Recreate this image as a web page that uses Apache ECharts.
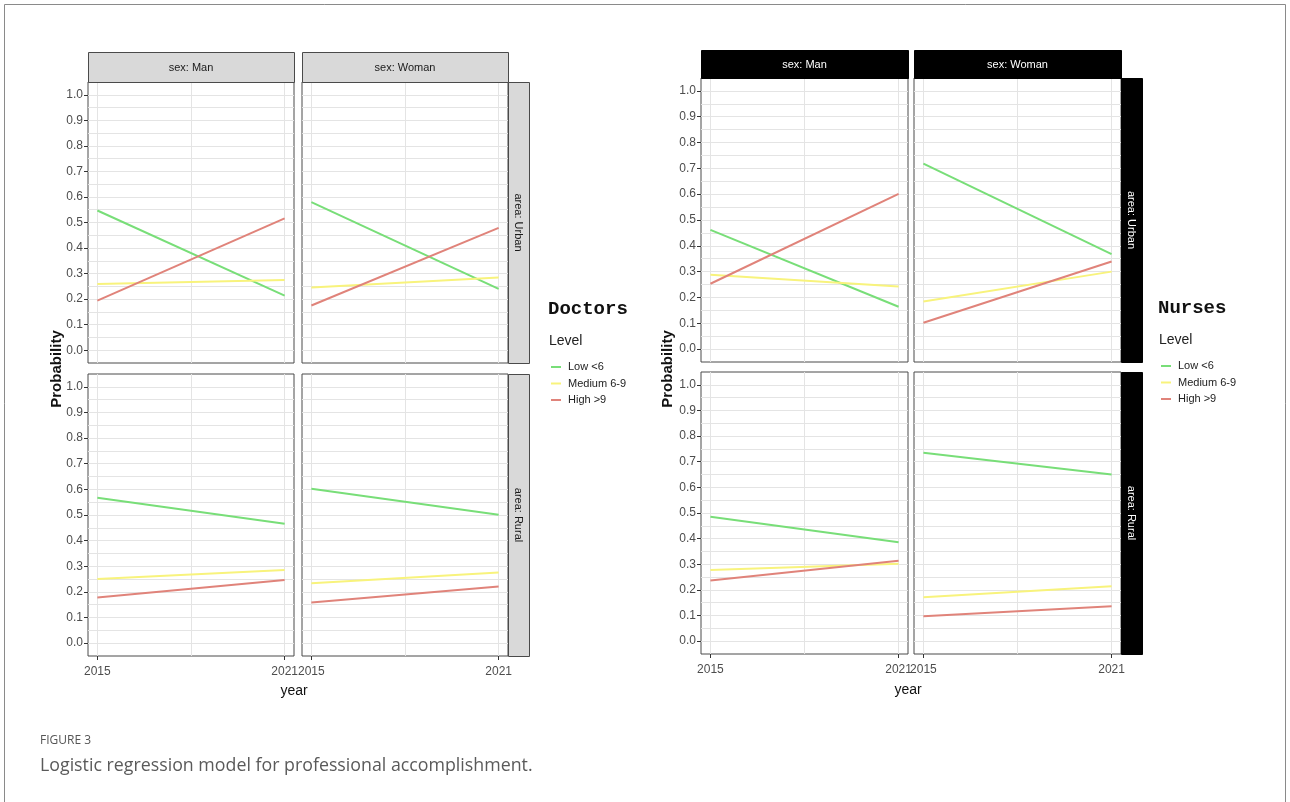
<!DOCTYPE html>
<html><head><meta charset="utf-8">
<script src="https://cdn.jsdelivr.net/npm/echarts@6/dist/echarts.min.js"></script>
<style>html,body{margin:0;padding:0;background:#fff}#c{width:1290px;height:802px}</style>
</head><body><div id="c"></div>
<script>
// ---------- data ----------
const years = [2015, 2021];
const xTickLabels = [2015, 2021];
const xGridYears = [2015, 2018, 2021];
const yTickLabels = [0, 0.1, 0.2, 0.3, 0.4, 0.5, 0.6, 0.7, 0.8, 0.9, 1.0];
const levels = ['Low <6', 'Medium 6-9', 'High >9'];
const sexLabels = ['sex: Man', 'sex: Woman'];
const areaLabels = ['area: Urban', 'area: Rural'];

// Doctors
const docUrbanManLow = [0.547, 0.214];
const docUrbanManMed = [0.259, 0.275];
const docUrbanManHigh = [0.194, 0.516];
const docUrbanWomanLow = [0.580, 0.240];
const docUrbanWomanMed = [0.246, 0.285];
const docUrbanWomanHigh = [0.175, 0.479];
const docRuralManLow = [0.567, 0.466];
const docRuralManMed = [0.250, 0.285];
const docRuralManHigh = [0.178, 0.246];
const docRuralWomanLow = [0.602, 0.501];
const docRuralWomanMed = [0.234, 0.276];
const docRuralWomanHigh = [0.159, 0.221];

// Nurses
const nurUrbanManLow = [0.462, 0.164];
const nurUrbanManMed = [0.288, 0.242];
const nurUrbanManHigh = [0.253, 0.601];
const nurUrbanWomanLow = [0.718, 0.368];
const nurUrbanWomanMed = [0.184, 0.300];
const nurUrbanWomanHigh = [0.102, 0.339];
const nurRuralManLow = [0.485, 0.386];
const nurRuralManMed = [0.278, 0.302];
const nurRuralManHigh = [0.237, 0.314];
const nurRuralWomanLow = [0.735, 0.650];
const nurRuralWomanMed = [0.171, 0.214];
const nurRuralWomanHigh = [0.097, 0.136];

// ---------- layout ----------
const FONT = '"Liberation Sans", Arial, sans-serif';
const colors = ['#78de78', '#f8f37c', '#e0837a'];

const panels = [
  // doctors
  {rect: [88, 82, 206, 281], data: [docUrbanManLow, docUrbanManMed, docUrbanManHigh], showX: false, showY: true},
  {rect: [302, 82, 206, 281], data: [docUrbanWomanLow, docUrbanWomanMed, docUrbanWomanHigh], showX: false, showY: false},
  {rect: [88, 374, 206, 282], data: [docRuralManLow, docRuralManMed, docRuralManHigh], showX: true, showY: true},
  {rect: [302, 374, 206, 282], data: [docRuralWomanLow, docRuralWomanMed, docRuralWomanHigh], showX: true, showY: false},
  // nurses
  {rect: [701, 78, 207, 284], data: [nurUrbanManLow, nurUrbanManMed, nurUrbanManHigh], showX: false, showY: true},
  {rect: [914, 78, 207, 284], data: [nurUrbanWomanLow, nurUrbanWomanMed, nurUrbanWomanHigh], showX: false, showY: false},
  {rect: [701, 372, 207, 282], data: [nurRuralManLow, nurRuralManMed, nurRuralManHigh], showX: true, showY: true},
  {rect: [914, 372, 207, 282], data: [nurRuralWomanLow, nurRuralWomanMed, nurRuralWomanHigh], showX: true, showY: false}
];

const grid = [], xAxis = [], yAxis = [], series = [];
panels.forEach((p, g) => {
  const [l, t, w, h] = p.rect;
  grid.push({left: l, top: t, width: w, height: h, show: true, backgroundColor: '#fff',
    borderColor: '#4a4a4a', borderWidth: 1, containLabel: false});
  // main x axis (labels + ticks)
  xAxis.push({gridIndex: g, type: 'value', min: 2014.7, max: 2021.3, position: 'bottom',
    axisLine: {show: false, onZero: false}, splitLine: {show: false},
    axisTick: {show: p.showX, length: 4, lineStyle: {color: '#333'}, customValues: xTickLabels},
    axisLabel: {show: p.showX, customValues: xTickLabels, formatter: v => String(Math.round(v)),
      color: '#4d4d4d', fontSize: 12, margin: 10, fontFamily: FONT}});
  // gridline x axis
  xAxis.push({gridIndex: g, type: 'value', min: 2014.7, max: 2021.3, position: 'bottom',
    axisLine: {show: false, onZero: false}, axisLabel: {show: false},
    axisTick: {show: false, customValues: xGridYears},
    splitLine: {show: true, lineStyle: {color: '#e4e4e4', width: 1}}});
  yAxis.push({gridIndex: g, type: 'value', min: -0.05, max: 1.05, position: 'left',
    axisLine: {show: false, onZero: false}, splitLine: {show: false},
    axisTick: {show: p.showY, length: 4, lineStyle: {color: '#333'}, customValues: yTickLabels},
    axisLabel: {show: p.showY, customValues: yTickLabels, formatter: v => v.toFixed(1),
      color: '#4d4d4d', fontSize: 12, margin: 5, fontFamily: FONT}});
  yAxis.push({gridIndex: g, type: 'value', min: -0.05, max: 1.05, interval: 0.05, position: 'left',
    axisLine: {show: false, onZero: false}, axisLabel: {show: false}, axisTick: {show: false},
    splitLine: {show: true, showMinLine: false, showMaxLine: false, lineStyle: {color: '#e4e4e4', width: 1}}});
  p.data.forEach((arr, k) => {
    series.push({type: 'line', name: levels[k], xAxisIndex: 2 * g, yAxisIndex: 2 * g,
      data: years.map((yr, i) => [yr, arr[i]]), symbol: 'none', silent: true, z: 3,
      lineStyle: {color: colors[k], width: 2}, itemStyle: {color: colors[k]}});
  });
});

// ---------- decorations ----------
const graphic = [];
function strip(x, y, w, h, text, dark, vertical) {
  graphic.push({type: 'rect', shape: {x: x + 0.5, y: y + 0.5, width: w, height: h},
    style: {fill: dark ? '#000' : '#d9d9d9', stroke: dark ? '#000' : '#4a4a4a', lineWidth: 1}, z: 10});
  graphic.push({type: 'text', x: x + w / 2, y: y + h / 2 + (vertical ? 0 : 1), rotation: vertical ? -Math.PI / 2 : 0,
    style: {text: text, fill: dark ? '#fff' : '#1a1a1a', font: '11px ' + FONT, textAlign: 'center', textVerticalAlign: 'middle'}, z: 11});
}
// doctors strips
strip(88, 52, 206, 30, sexLabels[0], false, false);
strip(302, 52, 206, 30, sexLabels[1], false, false);
strip(508, 82, 21, 281, areaLabels[0], false, true);
strip(508, 374, 21, 282, areaLabels[1], false, true);
// nurses strips
strip(701, 50, 207, 28, sexLabels[0], true, false);
strip(914, 50, 207, 28, sexLabels[1], true, false);
strip(1121, 78, 21, 284, areaLabels[0], true, true);
strip(1121, 372, 21, 282, areaLabels[1], true, true);

function txt(x, y, text, font, fill, align, rot) {
  graphic.push({type: 'text', x: x, y: y, rotation: rot || 0,
    style: {text: text, font: font, fill: fill, textAlign: align || 'left', textVerticalAlign: 'middle'}, z: 11});
}
// axis titles
txt(57, 369, 'Probability', 'bold 15px ' + FONT, '#111', 'center', Math.PI / 2);
txt(668, 369, 'Probability', 'bold 15px ' + FONT, '#111', 'center', Math.PI / 2);
txt(294, 691, 'year', '14px ' + FONT, '#111', 'center');
txt(908, 690, 'year', '14px ' + FONT, '#111', 'center');

// legends
function legend(x, y, title) {
  txt(x, y, title, 'bold 19px "Liberation Mono", "Courier New", monospace', '#111', 'left');
  txt(x + 1, y + 32, 'Level', '14px ' + FONT, '#222', 'left');
  levels.forEach((lv, k) => {
    const yy = y + 58 + k * 16.5;
    graphic.push({type: 'line', shape: {x1: x + 3, y1: yy, x2: x + 13, y2: yy},
      style: {stroke: colors[k], lineWidth: 2}, z: 11});
    txt(x + 20, yy, lv, '11px ' + FONT, '#222', 'left');
  });
}
legend(548, 309, 'Doctors');
legend(1158, 308, 'Nurses');

// caption
txt(40, 741, 'FIGURE 3', '12px "Open Sans", ' + FONT, '#555', 'left');
txt(40, 766, 'Logistic regression model for professional accomplishment.', '17.8px "Open Sans", ' + FONT, '#5a5a5a', 'left');

// outer frame
graphic.push({type: 'rect', shape: {x: 4.5, y: 4.5, width: 1281, height: 840},
  style: {fill: 'none', stroke: '#8a8a8a', lineWidth: 1}, z: 1});

const chart = echarts.init(document.getElementById('c'), null, {renderer: 'canvas'});
chart.setOption({animation: false, backgroundColor: '#fff', grid, xAxis, yAxis, series, graphic});
</script></body></html>
